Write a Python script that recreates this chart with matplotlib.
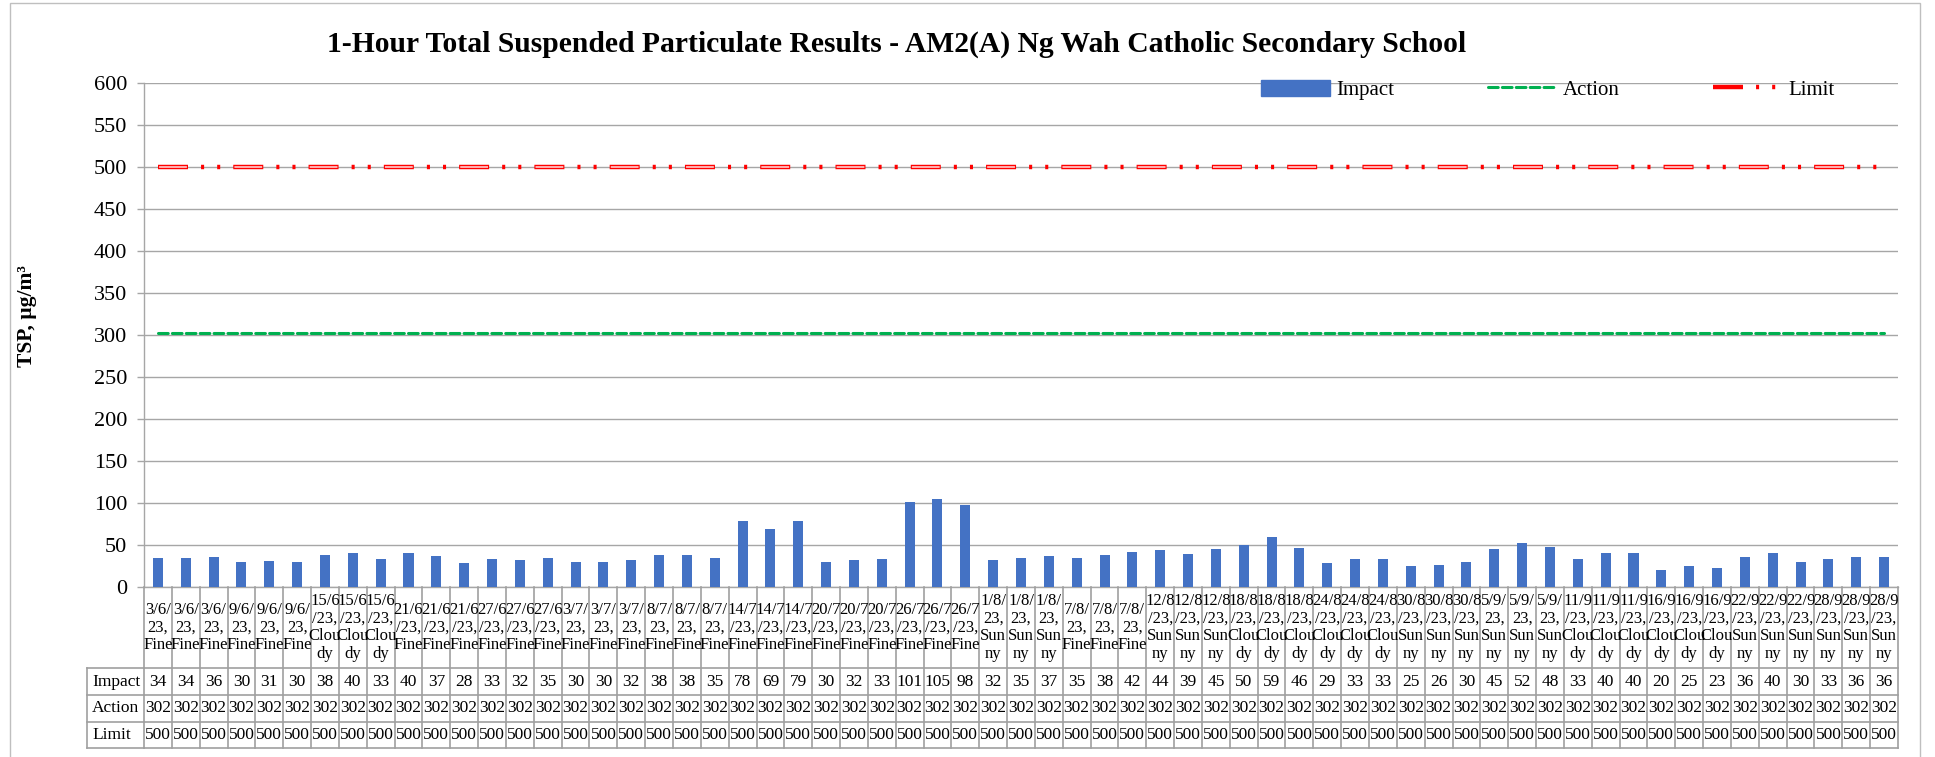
import matplotlib.pyplot as plt
from matplotlib.transforms import blended_transform_factory
from matplotlib.lines import Line2D
from matplotlib.patches import Patch, Rectangle

plt.rcParams['font.family'] = ['Liberation Serif', 'DejaVu Serif']
plt.rcParams['lines.scale_dashes'] = False

# monitoring days (3 one-hour samples per day) and weather
days = ['3/6/23', '9/6/23', '15/6/23', '21/6/23', '27/6/23', '3/7/23', '8/7/23',
        '14/7/23', '20/7/23', '26/7/23', '1/8/23', '7/8/23', '12/8/23', '18/8/23',
        '24/8/23', '30/8/23', '5/9/23', '11/9/23', '16/9/23', '22/9/23', '28/9/23']
day_weather = ['Fine', 'Fine', 'Cloudy', 'Fine', 'Fine', 'Fine', 'Fine',
               'Fine', 'Fine', 'Fine', 'Sunny', 'Fine', 'Sunny', 'Cloudy',
               'Cloudy', 'Sunny', 'Sunny', 'Cloudy', 'Cloudy', 'Sunny', 'Sunny']

impact = [34, 34, 36, 30, 31, 30, 38, 40, 33, 40, 37, 28, 33, 32, 35, 30, 30, 32,
          38, 38, 35, 78, 69, 79, 30, 32, 33, 101, 105, 98, 32, 35, 37, 35, 38, 42,
          44, 39, 45, 50, 59, 46, 29, 33, 33, 25, 26, 30, 45, 52, 48, 33, 40, 40,
          20, 25, 23, 36, 40, 30, 33, 36, 36]
action_level = 302
limit_level = 500

dates = [d for d in days for _ in range(3)]
weather = [w for w in day_weather for _ in range(3)]
n = len(impact)
x = list(range(n))
action = [action_level] * n
limit = [limit_level] * n

wrap_w = {'Fine': 'Fine', 'Cloudy': 'Clou\ndy', 'Sunny': 'Sun\nny'}
labels = [d[:4] + '\n' + d[4:] + ',\n' + wrap_w[w] for d, w in zip(dates, weather)]

W, H = 1935, 757
fig = plt.figure(figsize=(W / 100, H / 100), dpi=100)
ax = fig.add_axes([144 / W, 1 - 587 / H, (1898 - 144) / W, (587 - 83) / H])

grid_c = '#A6A6A6'
act_ls = (0, (7, 3))
lim_ls = (0, (21.6, 9.4, 2.2, 9.4, 2.2, 9.4))
lim_in = (-0.8, (20.0, 34.2))

ax.bar(x, impact, width=0.36, color='#4472C4', zorder=3)
ax.plot(x, action, color='#00B050', lw=2.2, linestyle=act_ls, dash_capstyle='round', zorder=4)
ax.plot(x, limit, color='#FF0000', lw=3.2, linestyle=lim_ls, dash_capstyle='butt', zorder=4)
ax.plot(x, limit, color='#FFB0B0', lw=1.4, linestyle=lim_in, dash_capstyle='butt', zorder=5)

ax.set_xlim(-0.5, n - 0.5)
ax.set_ylim(0, 600)
ax.set_yticks(range(0, 601, 50))
ax.set_xticks([])
ax.yaxis.grid(True, color=grid_c, lw=1.0)
ax.set_axisbelow(True)
for s in ['top', 'right']:
    ax.spines[s].set_visible(False)
for s in ['left', 'bottom']:
    ax.spines[s].set_color(grid_c)
    ax.spines[s].set_linewidth(1.0)
ax.tick_params(axis='y', labelsize=16, length=5, width=1.0, color=grid_c, pad=7)

# legend
h_imp = Patch(color='#4472C4')
h_act = Line2D([], [], color='#00B050', lw=2.2, linestyle=act_ls, dash_capstyle='round')
h_lim = Line2D([], [], color='#FF0000', lw=3.2, linestyle=lim_ls, dash_capstyle='butt')
fig.legend([h_imp, h_act, h_lim], ['Impact', 'Action', 'Limit'],
           loc='center left', bbox_to_anchor=(1261 / W, 1 - 90 / H), ncol=3,
           frameon=False, fontsize=15, handlelength=3.3, handleheight=0.8,
           handletextpad=0.3, columnspacing=4.5, borderpad=0, borderaxespad=0)

# titles
fig.text(897 / W, 1 - 44 / H,
         '1-Hour Total Suspended Particulate Results - AM2(A) Ng Wah Catholic Secondary School',
         ha='center', va='center', fontsize=21.3, fontweight='bold')
fig.text(27 / W, 1 - 316 / H, 'TSP, µg/m³', rotation=90, ha='center', va='center',
         fontsize=15.5, fontweight='bold')

# data table under the axis
tr = blended_transform_factory(ax.transData, fig.transFigure)
row_y = [587, 668, 695, 722, 748]
fy = [1 - v / H for v in row_y]
tab_c = '#A0A0A0'
for i in range(n + 1):
    fig.add_artist(Line2D([i - 0.5, i - 0.5], [fy[0], fy[-1]], transform=tr,
                          color=tab_c, lw=1.2))
for yy in fy[1:]:
    fig.add_artist(Line2D([-0.5, n - 0.5], [yy, yy], transform=tr, color=tab_c, lw=1.2))
    fig.add_artist(Line2D([87 / W, 144 / W], [yy, yy], transform=fig.transFigure,
                          color=tab_c, lw=1.2))
fig.add_artist(Line2D([87 / W, 87 / W], [fy[1], fy[-1]], transform=fig.transFigure,
                      color=tab_c, lw=1.2))

for i in range(n):
    fig.text(i, (fy[0] + fy[1]) / 2, labels[i], transform=tr, ha='center', va='center',
             fontsize=12, linespacing=1.12, multialignment='center')
rows = [('Impact', impact), ('Action', action), ('Limit', limit)]
for r, (name, vals) in enumerate(rows):
    yc = (fy[r + 1] + fy[r + 2]) / 2
    fig.text(92 / W, yc, name, ha='left', va='center', fontsize=12.5)
    for i in range(n):
        fig.text(i, yc, str(vals[i]), transform=tr, ha='center', va='center', fontsize=12.5)

# outer chart border
fig.add_artist(Rectangle((10 / W, -0.05), (1920 - 10) / W, 1.05 - 3 / H,
                         transform=fig.transFigure, fill=False, edgecolor='#BFBFBF', lw=1.0))

fig.savefig('out.png', dpi=100)
